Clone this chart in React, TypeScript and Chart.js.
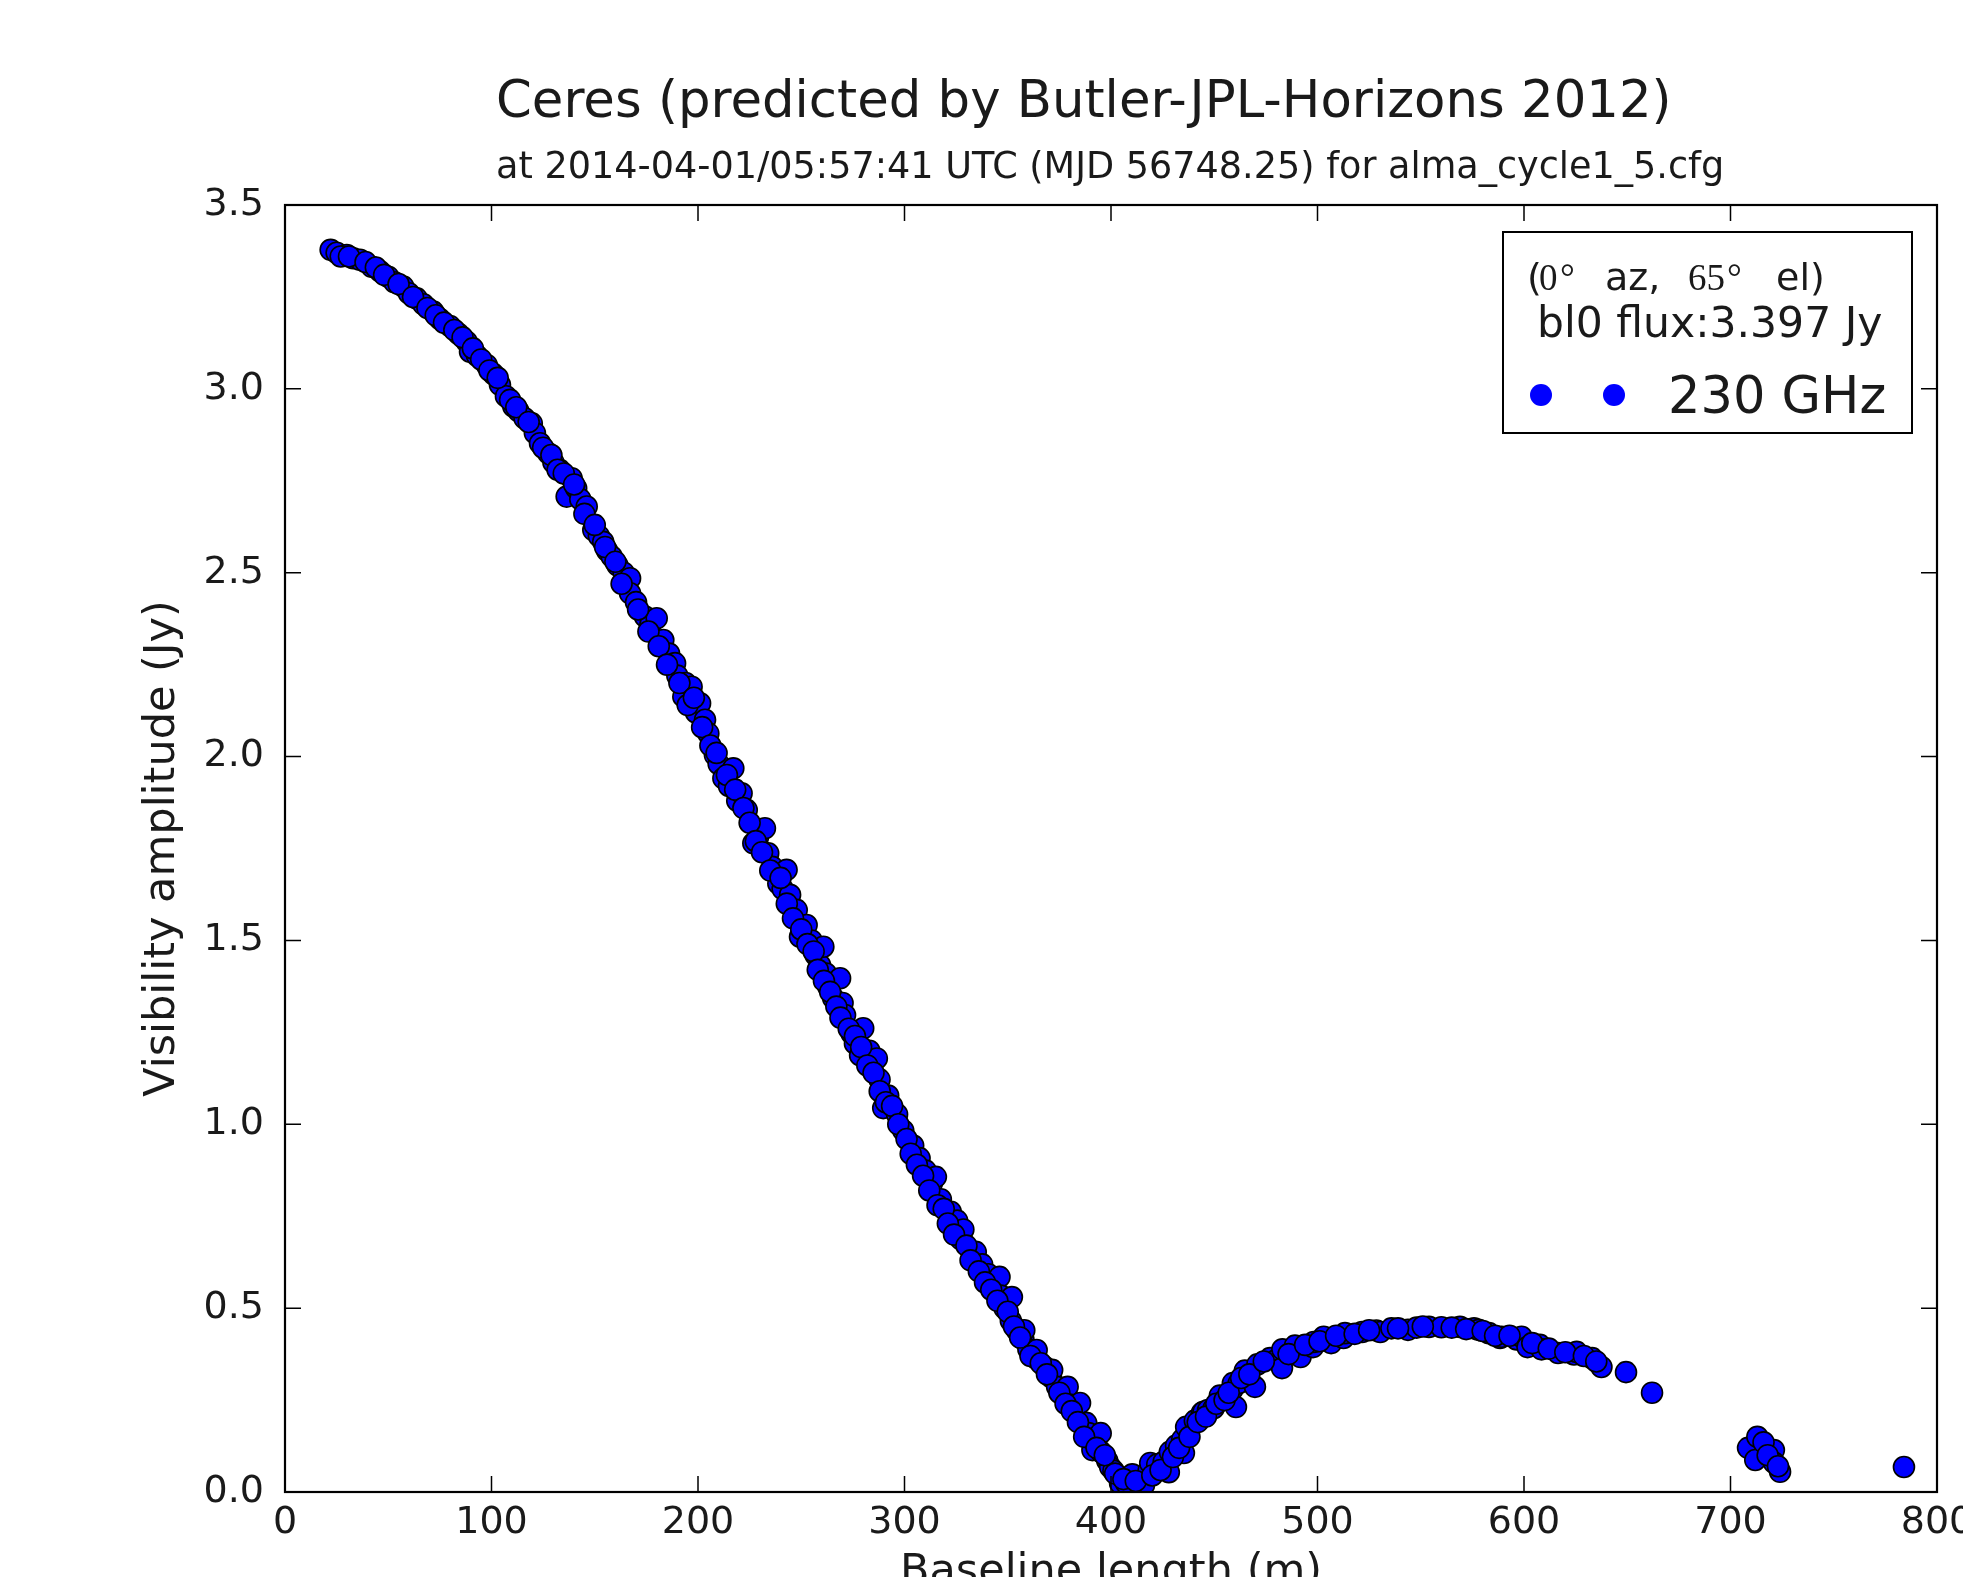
import React, { useEffect, useRef } from "react";
import { Chart, registerables } from "chart.js";

Chart.register(...registerables);

// ---------------- data ----------------
const baselineM = [
  22.1, 25, 29.9, 33, 36.3, 42, 46, 50, 53, 57.3, 60, 63.8, 67, 71.8, 75, 79.9, 84, 88, 89.6, 93,
  97.7, 101, 104.1, 107, 110.6, 113, 116, 119.5, 121, 123.5, 127.5, 130, 133.2, 136.4, 138.8, 141, 143, 146.1, 149.3, 152,
  154.1, 156, 158.2, 161, 164, 167.1, 167.1, 170, 174.3, 177, 180, 183.2, 186, 188.9, 190, 192.9, 194, 196.9, 199, 201,
  203.4, 205, 208.2, 210, 212.3, 215, 217.1, 219, 221.1, 223.6, 226.8, 229, 232.4, 234, 236, 238.9, 241, 242.9, 244.6, 247.8,
  249.4, 252.6, 255, 257, 259.1, 260.7, 262, 263.1, 265.5, 268.8, 270, 271.2, 274.4, 276, 278.5, 280, 283, 286.6, 287.9, 289.7,
  292.1, 296.4, 299.4, 304.2, 307.3, 310.3, 313.3, 315.2, 317.6, 322.4, 325.5, 327.3, 328.5, 334.5, 337.6, 340.6, 343.6, 346, 346.7, 348.5,
  351.5, 352, 354.5, 357.6, 358, 360, 363.6, 364, 367.9, 370.9, 371.5, 373.9, 377, 379, 380, 383, 385, 386.1, 388, 389.1,
  391, 392.1, 395, 395.2, 398.2, 399.6, 401.2, 404.2, 404.4, 407.3, 410.3, 414.5, 416, 418.2, 419, 422.4, 425.5, 428, 428.5, 431.5,
  434.5, 435.3, 436.4, 440.6, 444, 444.8, 447, 449.7, 452.7, 458.8, 459, 460.5, 461.8, 464.8, 469.7, 470.9, 477, 480, 482.8, 483,
  489.1, 491.8, 497.8, 498.2, 503, 506.6, 512.6, 513.3, 521.6, 528.5, 530.4, 535.8, 543.8, 548, 554, 560, 569, 575.8, 578, 583,
  588.4, 589.1, 596.4, 598.8, 601.7, 607.7, 608.5, 616.5, 624.2, 625.5, 633, 637.5, 649.4, 662, 708.5, 712, 713, 721, 721, 724,
  784,
  // second pass along the band (overlapping baselines)
  27, 31, 39, 44, 48, 55, 62, 69, 73, 77, 82, 86, 91, 95, 99, 103, 109, 112, 118, 125,
  129, 132, 135, 140, 145, 150, 155, 160, 163, 171, 176, 181, 185, 191, 195, 198, 202, 206, 209, 214,
  218, 222, 225, 228, 231, 235, 240, 243, 246, 250, 253, 256, 258, 261, 264, 267, 269, 273, 276, 279,
  282, 285, 288, 291, 294, 297, 301, 303, 306, 309, 312, 316, 319, 321, 324, 330, 332, 336, 339, 342,
  345, 350, 353, 356, 361, 366, 369, 375, 378, 381, 384, 387, 393, 397, 402, 406, 412, 420, 424, 430,
  433, 438, 442, 446, 451, 455, 457, 463, 467, 474, 486, 494, 501, 509, 518, 525, 539, 551, 565, 572,
  580, 586, 593, 604, 612, 620, 629, 635, 716, 718, 723,
];
const amplitudeJy = [
  3.378, 3.37, 3.364, 3.355, 3.351, 3.332, 3.32, 3.305, 3.29, 3.278, 3.26, 3.246, 3.23, 3.21, 3.19, 3.171, 3.15, 3.128, 3.101, 3.09,
  3.065, 3.04, 3.011, 2.98, 2.952, 2.94, 2.92, 2.906, 2.88, 2.852, 2.825, 2.8, 2.779, 2.707, 2.757, 2.73, 2.7, 2.68, 2.616, 2.6,
  2.584, 2.56, 2.544, 2.52, 2.5, 2.485, 2.444, 2.42, 2.381, 2.36, 2.376, 2.317, 2.28, 2.254, 2.22, 2.163, 2.2, 2.19, 2.12, 2.145,
  2.1, 2.063, 2.004, 1.98, 1.941, 1.92, 1.968, 1.88, 1.9, 1.855, 1.764, 1.78, 1.805, 1.737, 1.7, 1.655, 1.64, 1.692, 1.624, 1.583,
  1.51, 1.542, 1.5, 1.46, 1.433, 1.483, 1.41, 1.374, 1.343, 1.397, 1.33, 1.297, 1.247, 1.22, 1.188, 1.261, 1.2, 1.179, 1.122, 1.044,
  1.078, 1.027, 0.983, 0.942, 0.908, 0.874, 0.84, 0.857, 0.796, 0.762, 0.738, 0.687, 0.714, 0.653, 0.619, 0.592, 0.568, 0.585, 0.534, 0.5,
  0.466, 0.53, 0.439, 0.415, 0.44, 0.388, 0.364, 0.386, 0.34, 0.313, 0.332, 0.286, 0.262, 0.286, 0.238, 0.211, 0.242, 0.187, 0.188, 0.16,
  0.114, 0.136, 0.16, 0.109, 0.085, 0.068, 0.058, 0.041, 0.024, 0.024, 0.048, 0.017, 0.019, 0.058, 0.079, 0.075, 0.082, 0.054, 0.109, 0.126,
  0.143, 0.106, 0.177, 0.194, 0.215, 0.218, 0.223, 0.228, 0.262, 0.279, 0.296, 0.231, 0.296, 0.33, 0.286, 0.347, 0.364, 0.359, 0.337, 0.388,
  0.398, 0.367, 0.394, 0.408, 0.422, 0.405, 0.419, 0.432, 0.435, 0.439, 0.435, 0.445, 0.441, 0.447, 0.449, 0.448, 0.449, 0.445, 0.441, 0.432,
  0.419, 0.422, 0.415, 0.422, 0.394, 0.4, 0.388, 0.378, 0.374, 0.381, 0.364, 0.34, 0.326, 0.27, 0.12, 0.087, 0.15, 0.114, 0.08, 0.055,
  0.068,
  // second pass along the band
  3.36, 3.36, 3.345, 3.33, 3.31, 3.285, 3.25, 3.22, 3.2, 3.18, 3.16, 3.14, 3.11, 3.08, 3.05, 3.03, 2.97, 2.95, 2.91, 2.84,
  2.82, 2.78, 2.77, 2.74, 2.66, 2.63, 2.57, 2.53, 2.47, 2.4, 2.34, 2.3, 2.25, 2.2, 2.14, 2.16, 2.08, 2.03, 2.01, 1.95,
  1.91, 1.86, 1.82, 1.77, 1.74, 1.69, 1.67, 1.6, 1.56, 1.53, 1.49, 1.47, 1.42, 1.39, 1.36, 1.32, 1.29, 1.26, 1.24, 1.21,
  1.16, 1.14, 1.09, 1.06, 1.05, 1.0, 0.96, 0.92, 0.89, 0.86, 0.82, 0.78, 0.77, 0.73, 0.7, 0.67, 0.63, 0.6, 0.57, 0.55,
  0.52, 0.49, 0.45, 0.42, 0.37, 0.35, 0.32, 0.27, 0.24, 0.22, 0.19, 0.15, 0.12, 0.1, 0.05, 0.035, 0.03, 0.045, 0.06, 0.095,
  0.12, 0.15, 0.19, 0.205, 0.24, 0.25, 0.27, 0.31, 0.32, 0.355, 0.375, 0.4, 0.41, 0.425, 0.43, 0.44, 0.445, 0.45, 0.447, 0.443,
  0.438, 0.425, 0.425, 0.405, 0.39, 0.38, 0.37, 0.355, 0.135, 0.1, 0.07,
];

const xTickValues = [0, 100, 200, 300, 400, 500, 600, 700, 800];
const yTickValues = [0, 0.5, 1.0, 1.5, 2.0, 2.5, 3.0, 3.5];

const chartTitle = "Ceres (predicted by Butler-JPL-Horizons 2012)";
const chartSubtitle = "at 2014-04-01/05:57:41 UTC (MJD 56748.25) for alma_cycle1_5.cfg";
const xAxisTitle = "Baseline length (m)";
const yAxisTitle = "Visibility amplitude (Jy)";
const legendFluxLine = "bl0 flux:3.397 Jy";
const seriesLabel = "230 GHz";

// ---------------- layout ----------------
const W = 1963;
const H = 1577;
const SANS = '"DejaVu Sans", "Liberation Sans", sans-serif';
const SERIF = '"Liberation Serif", "DejaVu Serif", serif';
const MARKER_BLUE = "#0000ff";

const framePlugin = {
  id: "mplFrame",
  beforeDraw(chart: any) {
    const ctx = chart.ctx;
    ctx.save();
    ctx.fillStyle = "#ffffff";
    ctx.fillRect(0, 0, chart.width, chart.height);
    ctx.restore();
  },
  afterDatasetsDraw(chart: any) {
    const { ctx, chartArea } = chart;
    const xs = chart.scales.x;
    const ys = chart.scales.y;
    const L = chartArea.left, R = chartArea.right, T = chartArea.top, B = chartArea.bottom;
    const tick = 16;
    ctx.save();
    ctx.strokeStyle = "#000";
    ctx.lineWidth = 1.5;
    ctx.beginPath();
    for (const v of xTickValues) {
      const px = xs.getPixelForValue(v);
      ctx.moveTo(px, B);
      ctx.lineTo(px, B - tick);
      ctx.moveTo(px, T);
      ctx.lineTo(px, T + tick);
    }
    for (const v of yTickValues) {
      const py = ys.getPixelForValue(v);
      ctx.moveTo(L, py);
      ctx.lineTo(L + tick, py);
      ctx.moveTo(R, py);
      ctx.lineTo(R - tick, py);
    }
    ctx.stroke();
    ctx.lineWidth = 2.2;
    ctx.strokeRect(L, T, R - L, B - T);
    ctx.restore();
  },
  afterDraw(chart: any) {
    const { ctx, chartArea } = chart;
    ctx.save();
    ctx.fillStyle = "#1a1a1a";
    ctx.textBaseline = "alphabetic";

    // titles
    ctx.textAlign = "left";
    ctx.font = `51.3px ${SANS}`;
    ctx.fillText(chartTitle, 496, 117);
    ctx.font = `36.6px ${SANS}`;
    ctx.fillText(chartSubtitle, 496, 178);

    // axis titles
    ctx.font = `43px ${SANS}`;
    ctx.textAlign = "center";
    ctx.fillText(xAxisTitle, (chartArea.left + chartArea.right) / 2, 1584);
    ctx.save();
    ctx.translate(174, (chartArea.top + chartArea.bottom) / 2);
    ctx.rotate(-Math.PI / 2);
    ctx.fillText(yAxisTitle, 0, 0);
    ctx.restore();

    // legend box
    const bx = 1503, by = 232, bw = 409, bh = 201;
    ctx.fillStyle = "#ffffff";
    ctx.fillRect(bx, by, bw, bh);
    ctx.strokeStyle = "#000";
    ctx.lineWidth = 2;
    ctx.strokeRect(bx, by, bw, bh);

    ctx.fillStyle = "#1a1a1a";
    ctx.textAlign = "left";
    // line 1: (0°  az, 65°  el)  -- mathtext pieces in serif
    const base1 = 290;
    ctx.font = `38px ${SANS}`;
    ctx.fillText("(", 1527, base1);
    ctx.font = `37px ${SERIF}`;
    ctx.fillText("0", 1539, base1);
    ctx.fillText("°", 1560, base1);
    ctx.font = `38px ${SANS}`;
    ctx.fillText("az,", 1605, base1);
    ctx.font = `37px ${SERIF}`;
    ctx.fillText("65", 1688, base1);
    ctx.fillText("°", 1727, base1);
    ctx.font = `38px ${SANS}`;
    ctx.fillText("el)", 1776, base1);
    // line 2
    ctx.font = `42.5px ${SANS}`;
    ctx.fillText(legendFluxLine, 1537, 337);
    // marker row
    ctx.fillStyle = MARKER_BLUE;
    for (const cx of [1541, 1614]) {
      ctx.beginPath();
      ctx.arc(cx, 395, 11, 0, Math.PI * 2);
      ctx.fill();
    }
    ctx.fillStyle = "#1a1a1a";
    ctx.font = `51px ${SANS}`;
    ctx.fillText(seriesLabel, 1668, 413);
    ctx.restore();
  },
};

export default function App() {
  const canvasRef = useRef<HTMLCanvasElement | null>(null);

  useEffect(() => {
    const canvas = canvasRef.current;
    if (!canvas) return;
    canvas.width = W;
    canvas.height = H;
    const points = baselineM.map((x, i) => ({ x, y: amplitudeJy[i] }));
    const tickFont = { family: SANS, size: 38 };
    const chart = new Chart(canvas, {
      type: "scatter",
      data: {
        datasets: [
          {
            label: seriesLabel,
            data: points,
            backgroundColor: MARKER_BLUE,
            borderColor: "#000000",
            borderWidth: 1.6,
            pointRadius: 10.5,
            pointHoverRadius: 10.5,
            clip: 0,
          } as any,
        ],
      },
      options: {
        animation: false,
        responsive: false,
        maintainAspectRatio: false,
        devicePixelRatio: 1,
        events: [],
        layout: { padding: { left: 0, top: 205, right: 26, bottom: 0 } },
        plugins: {
          legend: { display: false },
          tooltip: { enabled: false },
          title: { display: false },
        },
        scales: {
          x: {
            type: "linear",
            min: 0,
            max: 800,
            afterBuildTicks(scale: any) {
              scale.ticks = xTickValues.map((v) => ({ value: v }));
            },
            afterFit(scale: any) {
              scale.height = 85;
              scale.paddingLeft = 0;
              scale.paddingRight = 0;
            },
            ticks: {
              font: tickFont,
              color: "#1a1a1a",
              padding: 8,
              maxRotation: 0,
              minRotation: 0,
              autoSkip: false,
              callback: (v: any) => String(v),
            },
            grid: { display: false, drawTicks: false },
            border: { display: false },
          },
          y: {
            type: "linear",
            min: 0,
            max: 3.5,
            afterBuildTicks(scale: any) {
              scale.ticks = yTickValues.map((v) => ({ value: v }));
            },
            afterFit(scale: any) {
              scale.width = 285;
              scale.paddingTop = 0;
              scale.paddingBottom = 0;
            },
            ticks: {
              font: tickFont,
              color: "#1a1a1a",
              padding: 21,
              autoSkip: false,
              callback: (v: any) => Number(v).toFixed(1),
            },
            grid: { display: false, drawTicks: false },
            border: { display: false },
          },
        },
      } as any,
      plugins: [framePlugin],
    });
    return () => chart.destroy();
  }, []);

  return (
    <div style={{ position: "fixed", left: 0, top: 0, width: W, height: H, background: "#fff", overflow: "hidden" }}>
      <canvas ref={canvasRef} style={{ display: "block", width: W, height: H }} />
    </div>
  );
}
